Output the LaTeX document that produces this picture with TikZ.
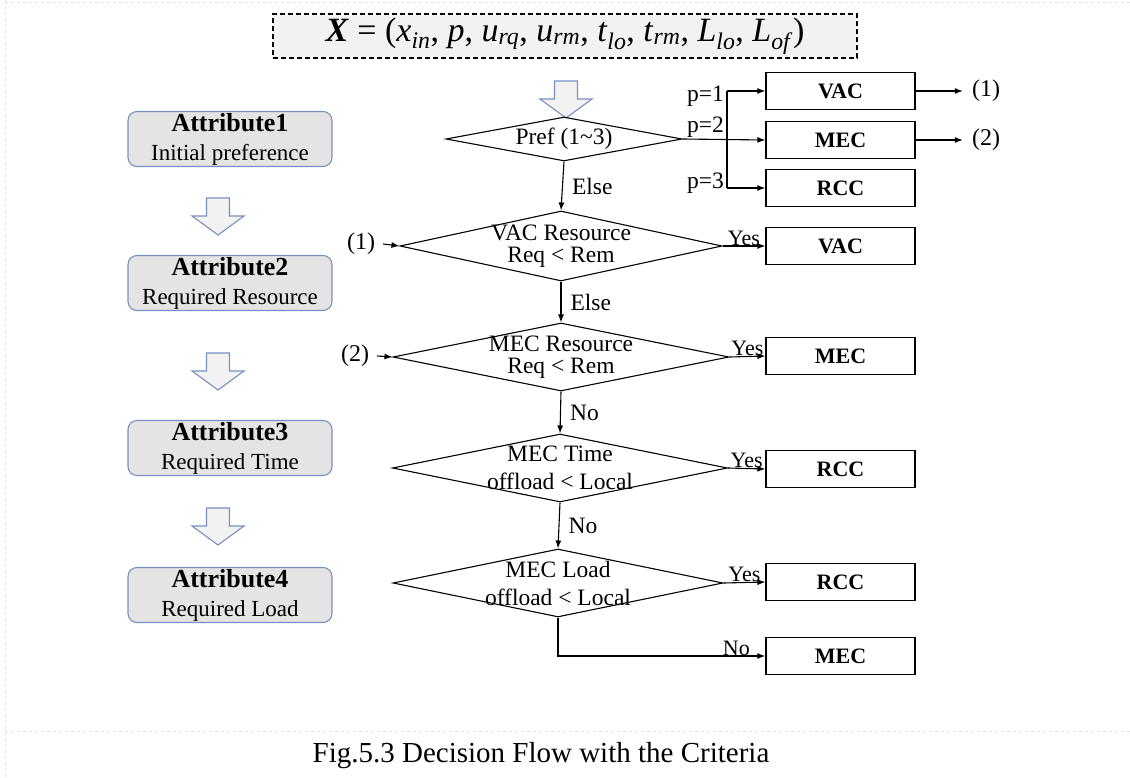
\documentclass[tikz,border=0pt]{standalone}
\usepackage{fontspec}
\setmainfont{Liberation Serif}
\usetikzlibrary{shapes.geometric,arrows.meta}
\definecolor{frameblue}{HTML}{7890C0}
\definecolor{boxgray}{HTML}{E4E4E4}
\definecolor{lightfill}{HTML}{F2F2F2}
\definecolor{pagegray}{HTML}{E4E4E4}

\begin{document}
\begin{tikzpicture}[x=1pt,y=-1pt,
  >={Latex[length=8pt,width=6pt]},
  flow/.style={line width=1.1pt,->},
  cond/.style={diamond, draw, line width=1.1pt, inner sep=0pt},
  condlbl/.style={align=center, inner sep=0pt, font=\fontsize{23.5}{22}\selectfont},
  target/.style={draw, line width=1.2pt, minimum width=149pt, minimum height=37pt, inner sep=0pt,
    font=\fontsize{22}{24}\selectfont\bfseries},
  attr/.style={draw=frameblue, fill=boxgray, rounded corners=9pt, line width=1.1pt,
    minimum width=204pt, minimum height=55pt, align=center, inner sep=0pt,
    font=\fontsize{23}{29}\selectfont},
  lbl/.style={inner sep=1pt, font=\fontsize{23.5}{24}\selectfont},
  yeslbl/.style={inner sep=0pt, font=\fontsize{22}{24}\selectfont},
  downarrow/.pic={\draw[draw=frameblue, fill=lightfill, line width=1.1pt]
    (-11.5,0) -- (11.5,0) -- (11.5,18) -- (26,18) -- (0,37) -- (-26,18) -- (-11.5,18) -- cycle;}
]
\useasboundingbox (0,0) rectangle (1130,778);

% page frame
\draw[pagegray, dashed, line width=1pt] (5,0) -- (5,778);
\draw[pagegray, dashed, line width=1pt] (5,3) -- (1130,3);
\draw[pagegray, dashed, line width=1pt] (5,731) -- (1130,731);

% input vector
\node[draw, dashed, dash pattern=on 5pt off 3pt, fill=lightfill, line width=1.2pt,
  minimum width=584pt, minimum height=44pt, inner sep=0pt,
  font=\fontsize{34}{36}\selectfont] (input) at (565,36)
  {\textbf{\textit{X}} = (\textit{x}\textsubscript{\textit{in}}, \textit{p}, \textit{u}\textsubscript{\textit{rq}}, \textit{u}\textsubscript{\textit{rm}}, \textit{t}\textsubscript{\textit{lo}}, \textit{t}\textsubscript{\textit{rm}}, \textit{L}\textsubscript{\textit{lo}}, \textit{L}\textsubscript{\textit{of}})};
\pic at (566,81) {downarrow};

% attribute column
\node[attr] (a1) at (230,139) {{\fontsize{26}{29}\selectfont\bfseries Attribute1}\\Initial preference};
\node[attr] (a2) at (230,283) {{\fontsize{26}{29}\selectfont\bfseries Attribute2}\\Required Resource};
\node[attr] (a3) at (230,448) {{\fontsize{26}{29}\selectfont\bfseries Attribute3}\\Required Time};
\node[attr] (a4) at (230,595) {{\fontsize{26}{29}\selectfont\bfseries Attribute4}\\Required Load};
\pic at (218,198) {downarrow};
\pic at (218,353) {downarrow};
\pic at (218,508) {downarrow};

% decisions
\node[cond, minimum width=236pt, minimum height=44pt,
  label={[condlbl]center:Pref (1\textasciitilde3)}] (pref) at (564,139) {};
\node[cond, minimum width=322pt, minimum height=70pt,
  label={[condlbl]center:{VAC Resource\\Req < Rem}}] (d2) at (561,246) {};
\node[cond, minimum width=336pt, minimum height=68pt,
  label={[condlbl]center:{MEC Resource\\Req < Rem}}] (d3) at (561,357) {};
\node[cond, minimum width=335pt, minimum height=68pt,
  label={[condlbl]center:{MEC Time\\[6pt]offload < Local}}] (d4) at (560,468) {};
\node[cond, minimum width=330pt, minimum height=68pt,
  label={[condlbl]center:{MEC Load\\[6pt]offload < Local}}] (d5) at (558,583) {};

% outcomes
\node[target] (vac1) at (840.5,91) {VAC};
\node[target] (mec1) at (840.5,140) {MEC};
\node[target] (rcc1) at (840.5,188) {RCC};
\node[target] (vac2) at (840.5,246) {VAC};
\node[target] (mec2) at (840.5,356) {MEC};
\node[target] (rcc2) at (840.5,469) {RCC};
\node[target] (rcc3) at (840.5,582) {RCC};
\node[target] (mec3) at (840.5,656) {MEC};

% preference branches
\coordinate (jx) at (727,139);
\draw[line width=1.1pt] (jx |- vac1.west) -- (jx |- rcc1.west);
\draw[flow] (pref.east) -- (mec1.west);
\draw[flow] (jx |- vac1.west) -- (vac1.west);
\draw[flow] (jx |- rcc1.west) -- (rcc1.west);
\node[lbl, anchor=east] (p1) at (725,96) {p=1};
\node[lbl, anchor=east] (p2) at (725,127) {p=2};
\node[lbl, anchor=east] (p3) at (725,183) {p=3};

% jump labels
\node[lbl, inner sep=0pt, font=\fontsize{24}{26}\selectfont] (out1) at (986,91) {(1)};
\node[lbl, inner sep=0pt, font=\fontsize{24}{26}\selectfont] (out2) at (986,140) {(2)};
\draw[flow] (vac1.east) -- ([xshift=-9pt]out1.west);
\draw[flow] (mec1.east) -- ([xshift=-9pt]out2.west);
\node[lbl, inner sep=0pt, font=\fontsize{24}{26}\selectfont] (in1) at (361,244) {(1)};
\node[lbl, inner sep=0pt, font=\fontsize{24}{26}\selectfont] (in2) at (355,356) {(2)};
\draw[flow] ([xshift=8pt]in1.east) -- (d2.west);
\draw[flow] ([xshift=8pt]in2.east) -- (d3.west);

% main flow
\draw[flow] (pref.south) -- node[lbl, right, xshift=8pt] {Else} (d2.north);
\draw[flow] (d2.south) -- node[lbl, right, xshift=8pt] {Else} (d3.north);
\draw[flow] (d3.south) -- node[lbl, right, xshift=8pt] {No} (d4.north);
\draw[flow] (d4.south) -- node[lbl, right, xshift=8pt] {No} (d5.north);
\draw[flow] (d2.east) -- node[yeslbl, above] {Yes} (vac2.west);
\draw[flow] (d3.east) -- node[yeslbl, above] {Yes} (mec2.west);
\draw[flow] (d4.east) -- node[yeslbl, above] {Yes} (rcc2.west);
\draw[flow] (d5.east) -- node[yeslbl, above] {Yes} (rcc3.west);
\draw[flow] (d5.south) |- node[yeslbl, above, pos=0.93] {No} (mec3.west);

% caption
\node[font=\fontsize{29}{31}\selectfont, inner sep=0pt] (caption) at (541,756) {Fig.5.3 Decision Flow with the Criteria};
\end{tikzpicture}
\end{document}
